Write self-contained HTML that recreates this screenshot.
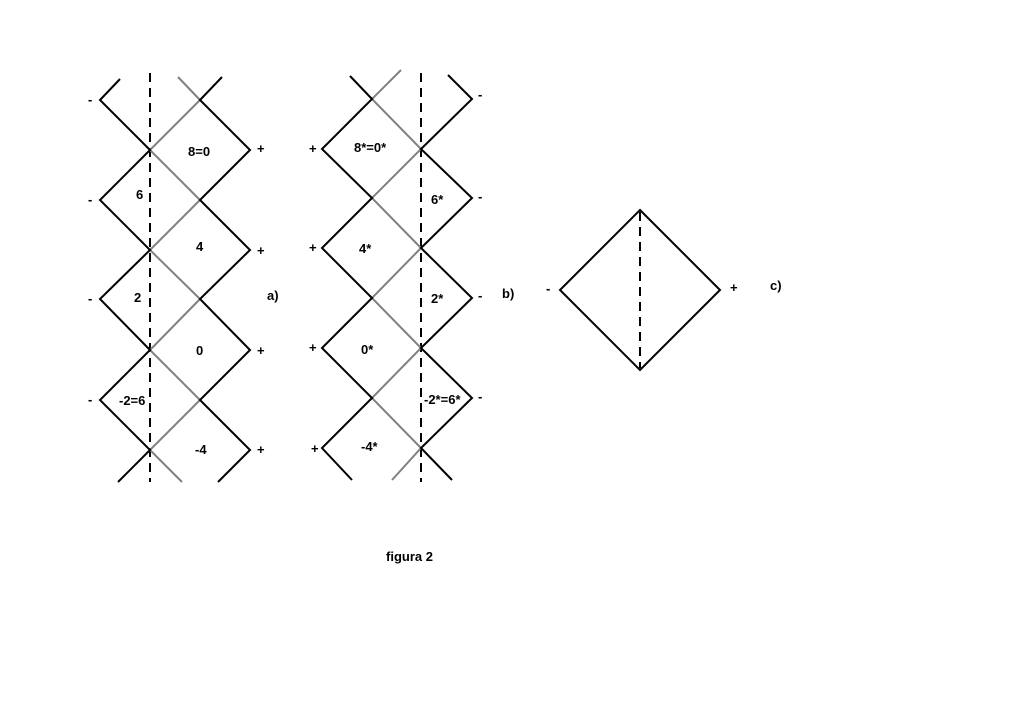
<!DOCTYPE html>
<html><head><meta charset="utf-8"><style>
html,body{margin:0;padding:0;background:#fff;}
svg text{font-family:"Liberation Sans",Arial,sans-serif;font-weight:bold;font-size:13px;fill:#000;}
</style></head><body>
<svg width="1024" height="702" viewBox="0 0 1024 702" xmlns="http://www.w3.org/2000/svg">
<g fill="none" stroke-width="2">
<!-- a -->
<line x1="150" y1="73" x2="150" y2="482" stroke="#000" stroke-dasharray="9,6"/>
<polyline stroke="#808080" points="178,77 200,100 150,150 200,200 150,250 200,299 150,350 200,400 150,450 182,482"/>
<polyline stroke="#000" points="120,79 100,100 150,150 100,200 150,250 100,299 150,350 100,400 150,450 118,482"/>
<polyline stroke="#000" points="222,77 200,100 250,150 200,200 250,250 200,299 250,350 200,400 250,450 218,482"/>
<!-- b -->
<line x1="421" y1="73" x2="421" y2="482" stroke="#000" stroke-dasharray="9,6"/>
<polyline stroke="#808080" points="401,70 372,99 421,149 372,198 421,248 372,298 421,348 372,398 421,448 392,480"/>
<polyline stroke="#000" points="350,76 372,99 322,149 372,198 322,248 372,298 322,348 372,398 322,448 352,480"/>
<polyline stroke="#000" points="448,75 472,99 421,149 472,198 421,248 472,298 421,348 472,398 421,448 452,480"/>
<!-- c -->
<polygon stroke="#000" points="640,210 720,290 640,370 560,290"/>
<line x1="640" y1="212" x2="640" y2="368" stroke="#000" stroke-dasharray="9,6"/>
</g>
<!-- a labels -->
<text x="88" y="104">-</text><text x="88" y="204">-</text><text x="88" y="303">-</text><text x="88" y="404">-</text>
<text x="257" y="153">+</text><text x="257" y="255">+</text><text x="257" y="355">+</text><text x="257" y="454">+</text>
<text x="188" y="156">8=0</text>
<text x="136" y="199">6</text>
<text x="196" y="251">4</text>
<text x="134" y="302">2</text>
<text x="196" y="355">0</text>
<text x="119" y="405">-2=6</text>
<text x="195" y="454">-4</text>
<text x="267" y="300">a)</text>
<!-- b labels -->
<text x="309" y="153">+</text><text x="309" y="252">+</text><text x="309" y="352">+</text><text x="311" y="453">+</text>
<text x="478" y="99">-</text><text x="478" y="201">-</text><text x="478" y="300">-</text><text x="478" y="401">-</text>
<text x="354" y="152">8*=0*</text>
<text x="431" y="204">6*</text>
<text x="359" y="253">4*</text>
<text x="431" y="303">2*</text>
<text x="361" y="354">0*</text>
<text x="424" y="404">-2*=6*</text>
<text x="361" y="451">-4*</text>
<text x="502" y="298">b)</text>
<!-- c labels -->
<text x="546" y="293">-</text>
<text x="730" y="292">+</text>
<text x="770" y="290">c)</text>
<text x="386" y="561">figura 2</text>
</svg>
</body></html>
